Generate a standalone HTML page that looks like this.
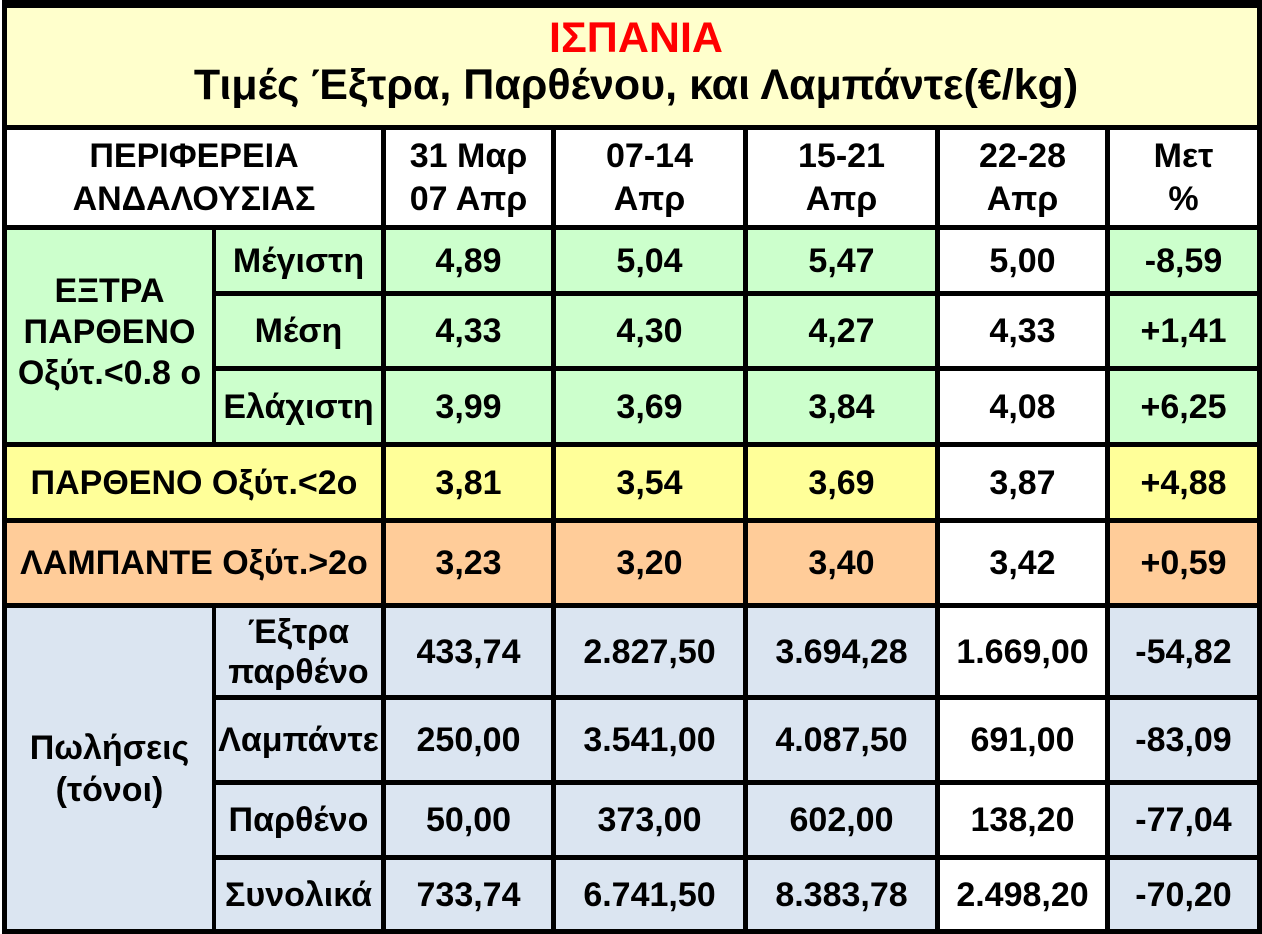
<!DOCTYPE html>
<html><head><meta charset="utf-8">
<style>
html,body{margin:0;padding:0;background:#fff;}
body{width:1262px;height:934px;position:relative;overflow:hidden;font-family:"Liberation Sans",Arial,sans-serif;font-weight:bold;}
#frame{position:absolute;left:2px;top:0;width:1260px;height:934px;background:#000;}
.c{position:absolute;display:flex;align-items:center;justify-content:center;text-align:center;font-size:34px;line-height:42px;color:#000;white-space:nowrap;overflow:hidden;box-sizing:border-box;}
.g{background:#CCFFCC}.y{background:#FFFF99}.o{background:#FFCC99}.b{background:#DBE5F1}.w{background:#fff}
#title{position:absolute;left:7px;top:8px;width:1250px;height:117px;background:#FFFFCC;text-align:center;box-sizing:border-box;padding-top:7px;padding-left:8px;font-size:43px;line-height:47px;white-space:nowrap;}
#title .r{color:#FF0000;}
.c3{left:386px;width:165px}.c4{left:556px;width:187px}.c5{left:748px;width:187px}.c6{left:940px;width:165px}.c7{left:1110px;width:147px}
.c2{left:216px;width:165px}
</style></head><body>
<div id="frame"></div>
<div id="title"><div class="r">ΙΣΠΑΝΙΑ</div><div>Τιμές Έξτρα, Παρθένου, και Λαμπάντε(€/kg)</div></div>

<!-- header -->
<div class="c w" style="left:7px;width:374px;top:130px;height:95px;line-height:43px;">ΠΕΡΙΦΕΡΕΙΑ<br>ΑΝΔΑΛΟΥΣΙΑΣ</div>
<div class="c w c3" style="top:130px;height:95px;line-height:43px;">31 Μαρ<br>07 Απρ</div>
<div class="c w c4" style="top:130px;height:95px;line-height:43px;">07-14<br>Απρ</div>
<div class="c w c5" style="top:130px;height:95px;line-height:43px;">15-21<br>Απρ</div>
<div class="c w c6" style="top:130px;height:95px;line-height:43px;">22-28<br>Απρ</div>
<div class="c w c7" style="top:130px;height:95px;line-height:43px;">Μετ<br>%</div>

<!-- extra virgin block -->
<div class="c g" style="left:7px;width:205px;top:230px;height:212px;padding-bottom:8px;line-height:41px;">ΕΞΤΡΑ<br>ΠΑΡΘΕΝΟ<br>Οξύτ.&lt;0.8 ο</div>

<div class="c g c2" style="top:230px;height:61px;">Μέγιστη</div>
<div class="c g c3" style="top:230px;height:61px;">4,89</div>
<div class="c g c4" style="top:230px;height:61px;">5,04</div>
<div class="c g c5" style="top:230px;height:61px;">5,47</div>
<div class="c w c6" style="top:230px;height:61px;">5,00</div>
<div class="c g c7" style="top:230px;height:61px;">-8,59</div>

<div class="c g c2" style="top:296px;height:70px;">Μέση</div>
<div class="c g c3" style="top:296px;height:70px;">4,33</div>
<div class="c g c4" style="top:296px;height:70px;">4,30</div>
<div class="c g c5" style="top:296px;height:70px;">4,27</div>
<div class="c w c6" style="top:296px;height:70px;">4,33</div>
<div class="c g c7" style="top:296px;height:70px;">+1,41</div>

<div class="c g c2" style="top:371px;height:71px;">Ελάχιστη</div>
<div class="c g c3" style="top:371px;height:71px;">3,99</div>
<div class="c g c4" style="top:371px;height:71px;">3,69</div>
<div class="c g c5" style="top:371px;height:71px;">3,84</div>
<div class="c w c6" style="top:371px;height:71px;">4,08</div>
<div class="c g c7" style="top:371px;height:71px;">+6,25</div>

<!-- virgin -->
<div class="c y" style="left:7px;width:374px;top:447px;height:71px;">ΠΑΡΘΕΝΟ Οξύτ.&lt;2ο</div>
<div class="c y c3" style="top:447px;height:71px;">3,81</div>
<div class="c y c4" style="top:447px;height:71px;">3,54</div>
<div class="c y c5" style="top:447px;height:71px;">3,69</div>
<div class="c w c6" style="top:447px;height:71px;">3,87</div>
<div class="c y c7" style="top:447px;height:71px;">+4,88</div>

<!-- lampante -->
<div class="c o" style="left:7px;width:374px;top:523px;height:80px;">ΛΑΜΠΑΝΤΕ Οξύτ.&gt;2ο</div>
<div class="c o c3" style="top:523px;height:80px;">3,23</div>
<div class="c o c4" style="top:523px;height:80px;">3,20</div>
<div class="c o c5" style="top:523px;height:80px;">3,40</div>
<div class="c w c6" style="top:523px;height:80px;">3,42</div>
<div class="c o c7" style="top:523px;height:80px;">+0,59</div>

<!-- sales -->
<div class="c b" style="left:7px;width:205px;top:608px;height:321px;">Πωλήσεις<br>(τόνοι)</div>

<div class="c b c2" style="top:608px;height:87px;line-height:40px;">Έξτρα<br>παρθένο</div>
<div class="c b c3" style="top:608px;height:87px;">433,74</div>
<div class="c b c4" style="top:608px;height:87px;">2.827,50</div>
<div class="c b c5" style="top:608px;height:87px;">3.694,28</div>
<div class="c w c6" style="top:608px;height:87px;">1.669,00</div>
<div class="c b c7" style="top:608px;height:87px;">-54,82</div>

<div class="c b c2" style="top:700px;height:80px;">Λαμπάντε</div>
<div class="c b c3" style="top:700px;height:80px;">250,00</div>
<div class="c b c4" style="top:700px;height:80px;">3.541,00</div>
<div class="c b c5" style="top:700px;height:80px;">4.087,50</div>
<div class="c w c6" style="top:700px;height:80px;">691,00</div>
<div class="c b c7" style="top:700px;height:80px;">-83,09</div>

<div class="c b c2" style="top:785px;height:70px;">Παρθένο</div>
<div class="c b c3" style="top:785px;height:70px;">50,00</div>
<div class="c b c4" style="top:785px;height:70px;">373,00</div>
<div class="c b c5" style="top:785px;height:70px;">602,00</div>
<div class="c w c6" style="top:785px;height:70px;">138,20</div>
<div class="c b c7" style="top:785px;height:70px;">-77,04</div>

<div class="c b c2" style="top:860px;height:69px;">Συνολικά</div>
<div class="c b c3" style="top:860px;height:69px;">733,74</div>
<div class="c b c4" style="top:860px;height:69px;">6.741,50</div>
<div class="c b c5" style="top:860px;height:69px;">8.383,78</div>
<div class="c w c6" style="top:860px;height:69px;">2.498,20</div>
<div class="c b c7" style="top:860px;height:69px;">-70,20</div>
</body></html>
